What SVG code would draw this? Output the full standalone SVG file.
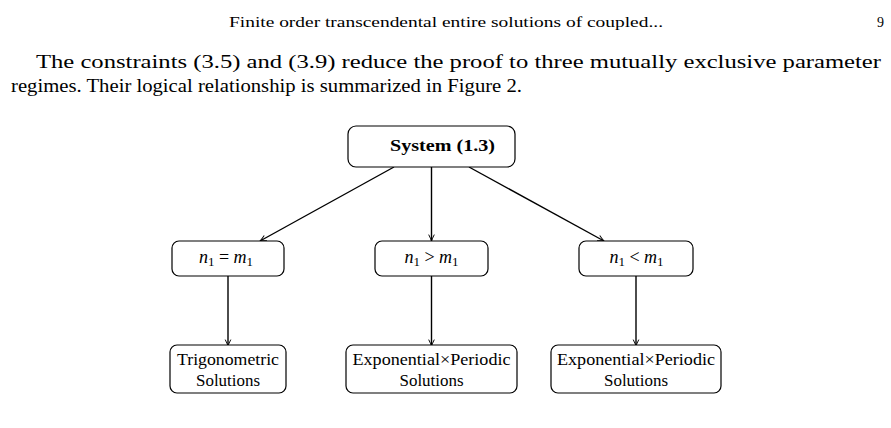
<svg xmlns="http://www.w3.org/2000/svg" width="891" height="428" viewBox="0 0 891 428">
<defs>
<style>
text{font-family:"Liberation Serif","Times New Roman",serif;fill:#000}
.box{fill:#fff;stroke:#000;stroke-width:1.2}
.lbl{font-size:17px;text-anchor:middle}
.math{font-size:18px;text-anchor:middle}
.it{font-style:italic}
.edge{stroke:#000;stroke-width:1.4;fill:none;marker-end:url(#arr)}
</style>
<marker id="arr" viewBox="0 0 10 10" refX="9" refY="5" markerWidth="8" markerHeight="8" markerUnits="userSpaceOnUse" orient="auto">
<path d="M1,1.5 Q6,4 9,5 Q6,6 1,8.5" fill="none" stroke="#000" stroke-width="1.2"/>
</marker>
</defs>
<rect width="891" height="428" fill="#fff"/>
<g id="page-text">
<text x="229" y="27" font-size="14" textLength="434" lengthAdjust="spacingAndGlyphs">Finite order transcendental entire solutions of coupled...</text>
<text x="877" y="27" font-size="14">9</text>
<text x="36" y="68" font-size="19" textLength="845" lengthAdjust="spacingAndGlyphs">The constraints (3.5) and (3.9) reduce the proof to three mutually exclusive parameter</text>
<text x="11" y="92" font-size="19" textLength="511" lengthAdjust="spacingAndGlyphs">regimes. Their logical relationship is summarized in Figure 2.</text>
</g>
<g id="connectors">
<line class="edge" x1="394" y1="167" x2="260" y2="241"/>
<line class="edge" x1="431.5" y1="167" x2="431.5" y2="241"/>
<line class="edge" x1="469" y1="167" x2="604" y2="241"/>
<line class="edge" x1="228" y1="276" x2="228" y2="346"/>
<line class="edge" x1="431.5" y1="276" x2="431.5" y2="346"/>
<line class="edge" x1="636" y1="276" x2="636" y2="346"/>
</g>
<g id="node-system">
<rect class="box" x="348" y="126" width="167" height="41" rx="8"/>
<text x="390" y="151" font-size="17" font-weight="bold" textLength="105" lengthAdjust="spacingAndGlyphs">System (1.3)</text>
</g>
<g id="node-eq">
<rect class="box" x="172" y="241" width="112" height="35" rx="7"/>
<text class="math" x="226" y="263"><tspan class="it">n</tspan><tspan font-size="13" dy="3">1</tspan><tspan dy="-3"> = </tspan><tspan class="it">m</tspan><tspan font-size="13" dy="3">1</tspan></text>
</g>
<g id="node-gt">
<rect class="box" x="375" y="241" width="113" height="35" rx="7"/>
<text class="math" x="431.5" y="263"><tspan class="it">n</tspan><tspan font-size="13" dy="3">1</tspan><tspan dy="-3"> &gt; </tspan><tspan class="it">m</tspan><tspan font-size="13" dy="3">1</tspan></text>
</g>
<g id="node-lt">
<rect class="box" x="579" y="241" width="114" height="35" rx="7"/>
<text class="math" x="636.5" y="263"><tspan class="it">n</tspan><tspan font-size="13" dy="3">1</tspan><tspan dy="-3"> &lt; </tspan><tspan class="it">m</tspan><tspan font-size="13" dy="3">1</tspan></text>
</g>
<g id="node-trig">
<rect class="box" x="170" y="345" width="116" height="48" rx="7"/>
<text class="lbl" x="228" y="365" textLength="102" lengthAdjust="spacingAndGlyphs">Trigonometric</text>
<text class="lbl" x="228" y="386" textLength="64" lengthAdjust="spacingAndGlyphs">Solutions</text>
</g>
<g id="node-expper1">
<rect class="box" x="346" y="345" width="171" height="48" rx="7"/>
<text class="lbl" x="431.5" y="365" textLength="158" lengthAdjust="spacingAndGlyphs">Exponential×Periodic</text>
<text class="lbl" x="431.5" y="386" textLength="64" lengthAdjust="spacingAndGlyphs">Solutions</text>
</g>
<g id="node-expper2">
<rect class="box" x="551" y="345" width="170" height="48" rx="7"/>
<text class="lbl" x="636" y="365" textLength="158" lengthAdjust="spacingAndGlyphs">Exponential×Periodic</text>
<text class="lbl" x="636" y="386" textLength="64" lengthAdjust="spacingAndGlyphs">Solutions</text>
</g>
</svg>
